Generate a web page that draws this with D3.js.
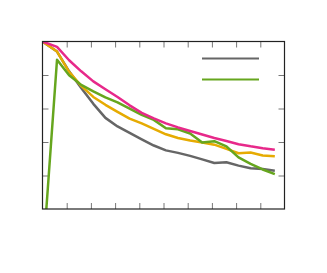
<!DOCTYPE html>
<html>
<head>
<meta charset="utf-8">
<script src="https://cdn.jsdelivr.net/npm/d3@7"></script>
<style>
  body { margin: 0; background: #fff; }
</style>
</head>
<body>
<div id="plot"></div>
<script>
// x positions of the samples
var steps = [0, 1.2, 2.2, 3.2, 4.2, 5.2, 6.2, 7.2, 8.2, 9.2, 10.2, 11.2, 12.2, 13.2, 14.2, 15.2, 16.2, 17.2, 18.2, 19.2];

var grayVals   = [100, 94.0, 82.2, 72.3, 62.8, 54.4, 49.3, 45.4, 41.6, 37.9, 35.0, 33.5, 31.7, 29.6, 27.5, 27.9, 25.9, 24.3, 23.9, 22.9];
var greenVals  = [-32, 89.1, 79.8, 74.1, 70.2, 66.6, 63.6, 59.9, 56.2, 53.2, 48.2, 47.6, 45.1, 39.7, 40.5, 37.4, 30.8, 26.9, 23.6, 20.8];
var orangeVals = [100, 94.0, 81.9, 73.5, 66.9, 62.2, 58.0, 54.0, 51.1, 47.8, 44.6, 42.4, 40.9, 39.7, 38.4, 35.9, 33.3, 33.7, 31.9, 31.5];
var pinkVals   = [100, 96.8, 88.8, 82.2, 76.2, 71.5, 66.9, 61.9, 57.4, 54.1, 51.1, 48.7, 46.6, 44.5, 42.4, 40.6, 38.7, 37.4, 36.3, 35.4];

var xTicks = [2, 4, 6, 8, 10, 12, 14, 16, 18];
var yTicks = [20, 40, 60, 80];

var svg = d3.select("div#plot")
            .append("svg")
            .attr("width", "327")
            .attr("height", "273");

var margin = {top: 41.5, right: 42.5, bottom: 64, left: 42.5};
var width = 242;
var height = 167.5;
var g = svg.append("g").attr("transform", `translate(${margin.left}, ${margin.top})`);

var xScale = d3.scaleLinear().domain([0, 20]).range([0, width]);
var yScale = d3.scaleLinear().domain([0, 100]).range([height, 0]);

// clip lines to the plot box
svg.append("defs").append("clipPath")
  .attr("id", "clip")
  .append("rect")
  .attr("width", width)
  .attr("height", height);

function styleAxis(sel) {
  sel.selectAll(".tick line").attr("stroke", "#777").attr("stroke-width", 1);
  sel.selectAll(".tick text").remove();
  sel.select(".domain").remove();
}

// ticks pointing inward on all four sides
g.append("g")
  .attr("transform", `translate(0, ${height})`)
  .call(d3.axisBottom(xScale).tickValues(xTicks).tickSize(-6).tickFormat(""))
  .call(styleAxis);
g.append("g")
  .call(d3.axisTop(xScale).tickValues(xTicks).tickSize(-6).tickFormat(""))
  .call(styleAxis);
g.append("g")
  .call(d3.axisLeft(yScale).tickValues(yTicks).tickSize(-6).tickFormat(""))
  .call(styleAxis);
g.append("g")
  .attr("transform", `translate(${width}, 0)`)
  .call(d3.axisRight(yScale).tickValues(yTicks).tickSize(-6).tickFormat(""))
  .call(styleAxis);

var line = d3.line()
  .x((d, i) => xScale(steps[i]))
  .y(d => yScale(d));

var series = [
  {vals: grayVals, color: "#666666"},
  {vals: orangeVals, color: "#e6ab02"},
  {vals: greenVals, color: "#66a61e"},
  {vals: pinkVals, color: "#e7298a"}
];

var lines = g.append("g").attr("clip-path", "url(#clip)");
series.forEach(function(s) {
  lines.append("path")
    .datum(s.vals)
    .attr("fill", "none")
    .attr("stroke", s.color)
    .attr("stroke-width", 2.5)
    .attr("stroke-linejoin", "round")
    .attr("d", line);
});

// frame
g.append("rect")
  .attr("width", width)
  .attr("height", height)
  .attr("fill", "none")
  .attr("stroke", "#222")
  .attr("stroke-width", 1.2);

// legend (lines only, no labels)
var legend = [
  {color: "#666666", y: 58.5},
  {color: "#66a61e", y: 79.5}
];
legend.forEach(function(d) {
  svg.append("line")
    .attr("x1", 202)
    .attr("x2", 259)
    .attr("y1", d.y)
    .attr("y2", d.y)
    .attr("stroke", d.color)
    .attr("stroke-width", 2.2);
});
</script>
</body>
</html>
